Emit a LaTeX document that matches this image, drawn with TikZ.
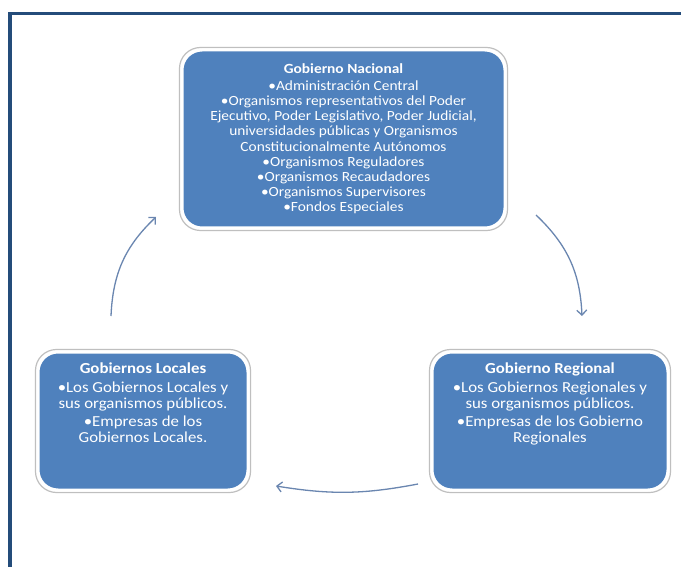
\documentclass[tikz,border=0pt]{standalone}
\usepackage{fontspec}
\setmainfont{Carlito}[FakeStretch=1.1]
\usepackage{tikz}
\usetikzlibrary{arrows.meta}

\definecolor{boxblue}{HTML}{4F81BD}
\definecolor{framblue}{HTML}{244C7A}
\definecolor{arrowblue}{HTML}{6A86B0}

\tikzset{
  govbox/.style={rectangle, rounded corners=20pt, fill=boxblue, draw=white,
    line width=3pt, text=white, inner sep=0pt, align=center,
    font=\fontsize{14}{15.2}\selectfont},
  smallgov/.style={govbox, minimum height=138pt,
    font=\fontsize{15.3}{16.5}\selectfont},
  govshadow/.style={rectangle, rounded corners=21pt, draw=black!25,
    line width=1.2pt, inner sep=0pt},
  cyclearrow/.style={->, arrowblue, line width=1.3pt}
}

\begin{document}
\begin{tikzpicture}[x=1pt, y=-1pt, > = {Straight Barb[length=5pt,width=10pt]}]
\useasboundingbox (0,0) rectangle (681,567);
\fill[white] (0,0) rectangle (681,567);
% frame
\draw[framblue, line width=3.5pt] (10,567) -- (10,13.5) -- (681,13.5);

% shadows
\node[govshadow, minimum width=328pt, minimum height=183pt] (nacsh) at (343.5,139) {};
\node[govshadow, minimum width=215pt, minimum height=143pt] (locsh) at (143,421) {};
\node[govshadow, minimum width=241pt, minimum height=143pt] (regsh) at (550,421) {};

\node[govbox, minimum width=323pt, minimum height=178pt] (nacional) at (343.5,139)
  {\textbf{Gobierno Nacional}\\[1.5pt]
   •Administración Central\\
   •Organismos representativos del Poder\\
   Ejecutivo, Poder Legislativo, Poder Judicial,\\
   universidades públicas y Organismos\\
   Constitucionalmente Autónomos\\
   •Organismos Reguladores\\
   •Organismos Recaudadores\\
   •Organismos Supervisores\\
   •Fondos Especiales};

\node[smallgov, minimum width=210pt] (locales) at (143,421)
  {\parbox[c][116pt][t]{205pt}{\centering
   \textbf{Gobiernos Locales}\\[2pt]
   •Los Gobiernos Locales y\\
   sus organismos públicos.\\[1pt]
   •Empresas de los\\
   Gobiernos Locales.}};

\node[smallgov, minimum width=236pt] (regional) at (550,421)
  {\parbox[c][116pt][t]{230pt}{\centering
   \textbf{Gobierno Regional}\\[2pt]
   •Los Gobiernos Regionales y\\
   sus organismos públicos.\\[1pt]
   •Empresas de los Gobierno\\
   Regionales}};

% arrow ends
\coordinate (nacin) at (156,217);
\coordinate (nacout) at (536,215);
\coordinate (regin) at (582,316);
\coordinate (regout) at (418,484);
\coordinate (locin) at (276,486);
\coordinate (locout) at (111,316);

\draw[cyclearrow] (nacout) to[bend left=22] (regin);
\draw[cyclearrow] (regout) to[bend left=10] (locin);
\draw[cyclearrow] (locout) to[bend left=22] (nacin);
\end{tikzpicture}
\end{document}
